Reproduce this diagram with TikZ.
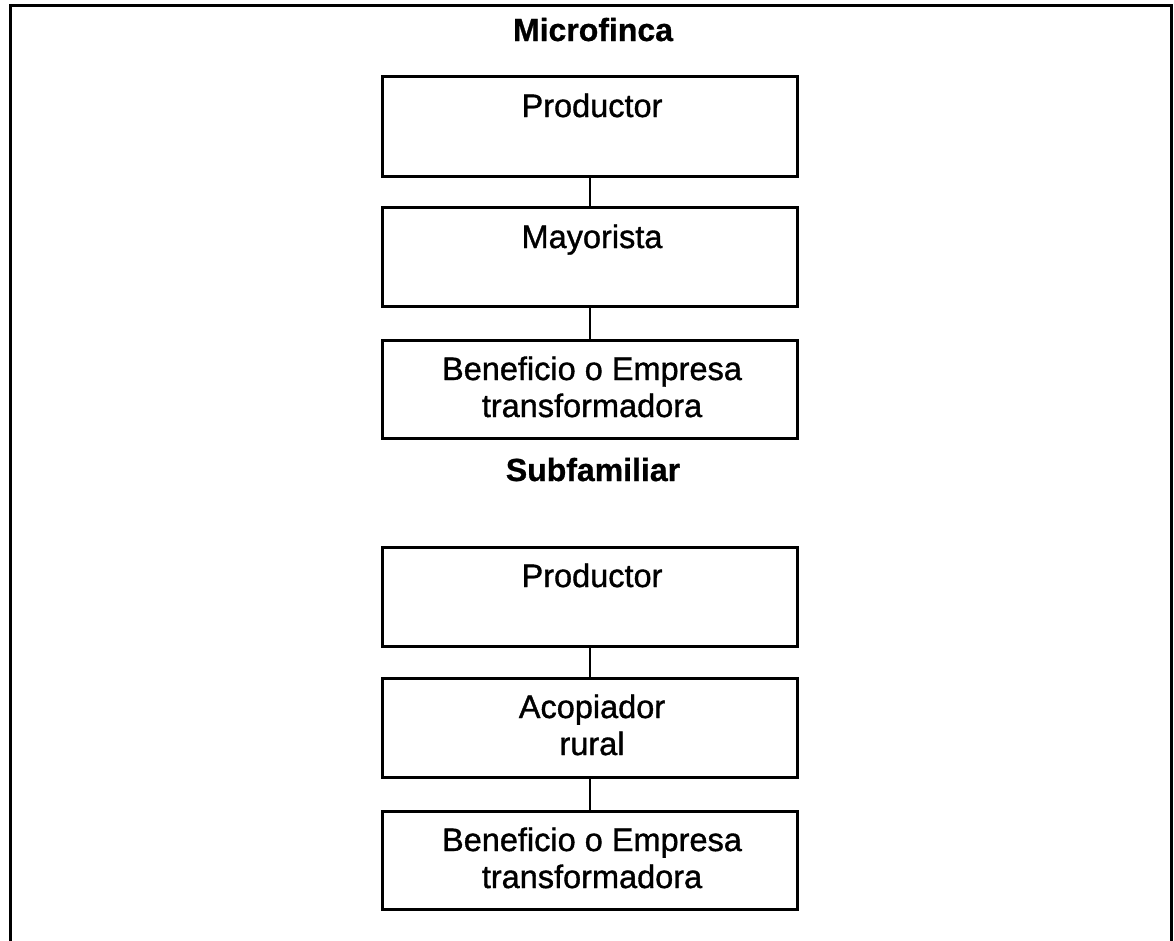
\documentclass[tikz,border=0pt]{standalone}
\usepackage{fontspec}
\setmainfont{Liberation Sans}[FakeBold=1.1]
\newfontfamily\boldsans{Liberation Sans Bold}[FakeBold=0.8]
\begin{document}
\begin{tikzpicture}[x=1pt,y=-1pt,
  box/.style={draw=black, line width=3pt, minimum width=415pt, inner sep=0pt},
  lbl/.style={font=\fontsize{32.5}{37}\selectfont, align=center, inner sep=0pt, anchor=base},
  ttl/.style={font=\boldsans\fontsize{32}{37}\selectfont, inner sep=0pt, anchor=base},
  conn/.style={line width=2.2pt}]
\useasboundingbox (0,0) rectangle (1174,940);
% outer frame
\coordinate (fbl) at (10,945);
\coordinate (ftl) at (10,5);
\coordinate (ftr) at (1171,5);
\coordinate (fbr) at (1171,945);
\draw[line width=3pt] (fbl) -- (ftl) -- (ftr) -- (fbr);
% titles
\node[ttl] (t1) at (593,41) {Microfinca};
\node[ttl] (t2) at (593,481) {Subfamiliar};
% boxes
\node[box, minimum height=100pt] (b1) at (590,126) {};
\node[box, minimum height=99pt] (b2) at (590,256.5) {};
\node[box, minimum height=98pt] (b3) at (590,389) {};
\node[box, minimum height=99pt] (b4) at (590,596.5) {};
\node[box, minimum height=99pt] (b5) at (590,727.5) {};
\node[box, minimum height=98pt] (b6) at (590,860) {};
% texts
\node[lbl] (l1) at (592,117) {Productor};
\node[lbl] (l2) at (592,248) {Mayorista};
\node[lbl] (l3) at (592,417) {Beneficio o Empresa\\transformadora};
\node[lbl] (l4) at (592,587) {Productor};
\node[lbl] (l5) at (592,755) {Acopiador\\rural};
\node[lbl] (l6) at (592,888) {Beneficio o Empresa\\transformadora};
% connectors
\draw[conn] (b1.south) -- (b2.north);
\draw[conn] (b2.south) -- (b3.north);
\draw[conn] (b4.south) -- (b5.north);
\draw[conn] (b5.south) -- (b6.north);
\end{tikzpicture}
\end{document}
